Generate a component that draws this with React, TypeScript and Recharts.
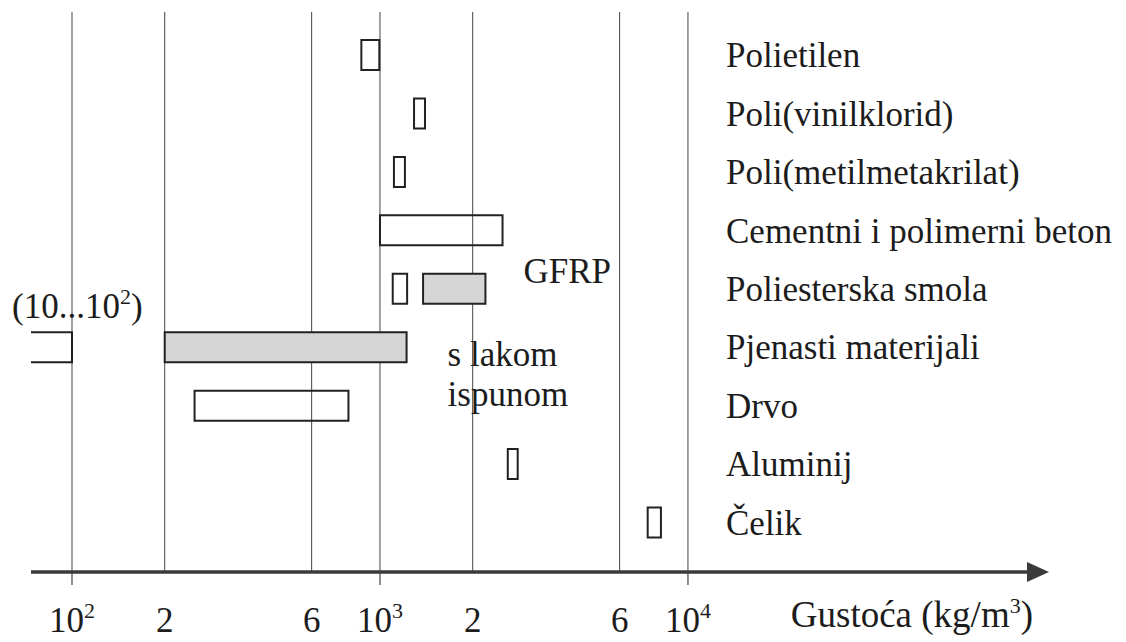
import { BarChart, Bar, XAxis, YAxis, CartesianGrid, LabelList } from "recharts";

// rows, top to bottom
const materials = [
  "Polietilen",
  "Poli(vinilklorid)",
  "Poli(metilmetakrilat)",
  "Cementni i polimerni beton",
  "Poliesterska smola",
  "Pjenasti materijali",
  "Drvo",
  "Aluminij",
  "Čelik",
];

// density ranges in kg/m3
const openRanges: ([number, number] | null)[] = [
  [870, 995],
  [1290, 1400],
  [1110, 1205],
  [1000, 2500],
  [1100, 1225],
  null,
  [250, 790],
  [2600, 2800],
  [7400, 8170],
];
const shadedRanges: ([number, number] | null)[] = [null, null, null, null, [1380, 2200], [200, 1220], null, null, null];
const cutRanges: ([number, number] | null)[] = [null, null, null, null, null, [10, 100], null, null, null];

const shadedNotes = [null, null, null, null, "GFRP", "s lakom|ispunom", null, null, null];
const cutNotes = [null, null, null, null, null, "(10...10^2)", null, null, null];

const xTicks = [100, 200, 600, 1000, 2000, 6000, 10000];
const xTickLabels = ["10^2", "2", "6", "10^3", "2", "6", "10^4"];
const xDomain = [73.6, 129000];
const axisTitle = "Gustoća (kg/m^3)";

const rows = materials.map((name, i) => ({
  name,
  open: openRanges[i],
  shaded: shadedRanges[i],
  cut: cutRanges[i],
  shadedNote: shadedNotes[i],
  cutNote: cutNotes[i],
}));

const FONT = "'Liberation Serif', 'Times New Roman', serif";
const INK = "#1c1c1c";
const FS = 35;
const LABEL_X = 726;
const yPad = { top: 14, bottom: 20 };

// "10^2" -> 10 with superscript 2
function withSup(s: string) {
  const parts = s.split(/\^(.)/);
  return parts.map((p, i) =>
    i % 2 === 1 ? (
      <tspan key={i} dy={-14} fontSize={22}>{p}</tspan>
    ) : (
      <tspan key={i} dy={i > 0 ? 14 : 0}>{p}</tspan>
    )
  );
}

const DensityTick = (props: any) => {
  const { x, y, payload } = props;
  const label = xTickLabels[xTicks.indexOf(payload.value)] ?? "";
  const decade = label.includes("^");
  return (
    <g>
      {decade && <line x1={x} x2={x} y1={y} y2={y + 13} stroke="#444" strokeWidth={1.2} />}
      <text x={x} y={y + 60} textAnchor="middle" fontSize={FS} fontFamily={FONT} fill={INK}>
        {withSup(label)}
      </text>
    </g>
  );
};

const MaterialTick = (props: any) => (
  <text x={LABEL_X} y={props.y} dy={12} fontSize={FS} fontFamily={FONT} fill={INK}>
    {props.payload.value}
  </text>
);

const AxisEnd = (props: any) => {
  const { viewBox } = props;
  if (!viewBox) return null;
  const end = viewBox.x + viewBox.width;
  const ay = viewBox.y;
  return (
    <g>
      <polygon points={`${end - 3},${ay - 10} ${end + 19},${ay} ${end - 3},${ay + 10}`} fill="#3a3a3a" />
      <text x={end + 3} y={ay + 55} textAnchor="end" fontSize={37} fontFamily={FONT} fill={INK}>
        {withSup(axisTitle)}
      </text>
    </g>
  );
};

// box open on the left, value range runs off the axis
const CutBox = (props: any) => {
  const { x, y, width, height } = props;
  if (!(width > 0) || !isFinite(x)) return null;
  return (
    <path
      d={`M${x},${y} H${x + width} V${y + height} H${x}`}
      fill="none"
      stroke="#222"
      strokeWidth={2}
    />
  );
};

const shadedNote = (props: any) => {
  const { x, y, width, height, value } = props;
  if (!value) return null;
  const lines = String(value).split("|");
  const right = x + width;
  const cy = y + height / 2;
  if (lines.length === 1) {
    return (
      <text x={right + 38} y={cy - 6} fontSize={FS} fontFamily={FONT} fill={INK}>
        {lines[0]}
      </text>
    );
  }
  return (
    <text fontSize={FS} fontFamily={FONT} fill={INK}>
      {lines.map((l, i) => (
        <tspan key={i} x={right + 41} y={cy + 19 + i * 40}>{l}</tspan>
      ))}
    </text>
  );
};

const cutNote = (props: any) => {
  const { x, y, width, height, value } = props;
  if (!value) return null;
  return (
    <text x={x + width - 60} y={y + height / 2 - 29} fontSize={FS} fontFamily={FONT} fill={INK}>
      {withSup(String(value))}
    </text>
  );
};

export default function App() {
  return (
    <div style={{ position: "absolute", left: 0, top: 0, background: "#fff" }}>
      <BarChart
        width={1126}
        height={642}
        data={rows}
        layout="vertical"
        margin={{ top: 12, right: 96, bottom: 10, left: 30 }}
      >
        <CartesianGrid horizontal={false} syncWithTicks yAxisId="a" stroke="#444" strokeWidth={1} />
        <XAxis
          type="number"
          scale="log"
          domain={xDomain}
          allowDataOverflow
          ticks={xTicks}
          interval={0}
          tickLine={false}
          tickSize={0}
          tickMargin={0}
          height={60}
          axisLine={{ stroke: "#3a3a3a", strokeWidth: 3.5 }}
          tick={<DensityTick />}
          label={<AxisEnd />}
        />
        <YAxis
          yAxisId="a"
          type="category"
          dataKey="name"
          width={1}
          padding={yPad}
          axisLine={false}
          tickLine={false}
          tickSize={0}
          interval={0}
          tick={<MaterialTick />}
        />
        <YAxis yAxisId="b" type="category" dataKey="name" hide padding={yPad} />
        <YAxis yAxisId="c" type="category" dataKey="name" hide padding={yPad} />
        <Bar
          yAxisId="a"
          dataKey="open"
          barSize={30}
          fill="none"
          stroke="#222"
          strokeWidth={2}
          isAnimationActive={false}
        />
        <Bar
          yAxisId="b"
          dataKey="shaded"
          barSize={30}
          fill="#d5d5d5"
          stroke="#222"
          strokeWidth={2}
          isAnimationActive={false}
        >
          <LabelList dataKey="shadedNote" content={shadedNote} />
        </Bar>
        <Bar
          yAxisId="c"
          dataKey="cut"
          barSize={30}
          shape={<CutBox />}
          isAnimationActive={false}
        >
          <LabelList dataKey="cutNote" content={cutNote} />
        </Bar>
      </BarChart>
    </div>
  );
}
